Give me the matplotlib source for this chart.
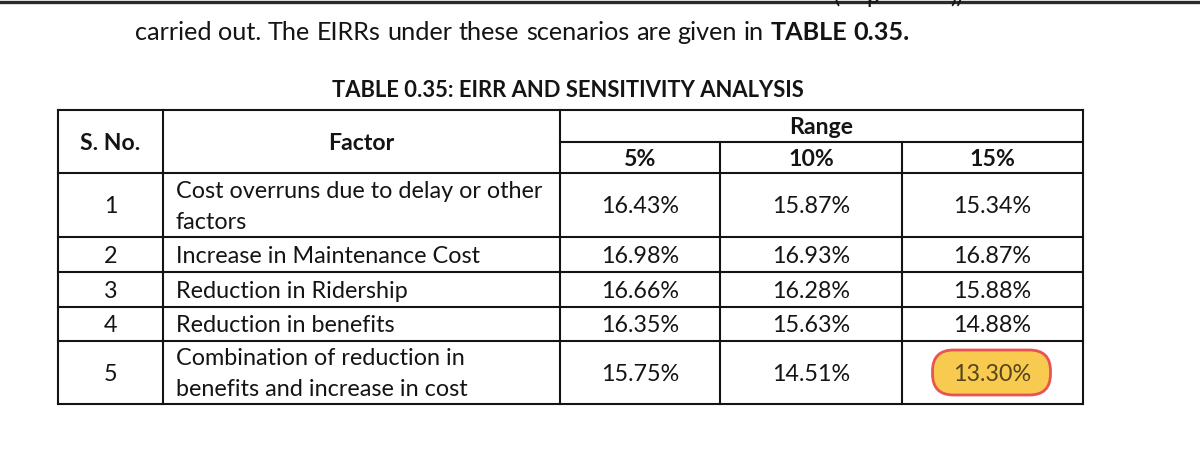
import numpy as np
import matplotlib.pyplot as plt
from matplotlib.patches import FancyBboxPatch

# table content
sno = ["1", "2", "3", "4", "5"]
factors = ["Cost overruns due to delay or other\nfactors",
           "Increase in Maintenance Cost",
           "Reduction in Ridership",
           "Reduction in benefits",
           "Combination of reduction in\nbenefits and increase in cost"]
ranges = ["5%", "10%", "15%"]
eirr_5 = [16.43, 16.98, 16.66, 16.35, 15.75]
eirr_10 = [15.87, 16.93, 16.28, 15.63, 14.51]
eirr_15 = [15.34, 16.87, 15.88, 14.88, 13.30]
highlight = (4, 2)  # row, col of the circled value

title = "TABLE 0.35: EIRR AND SENSITIVITY ANALYSIS"
para = "carried out. The EIRRs under these scenarios are given in"
para_bold = "TABLE 0.35."

FONT = "Lato"
FS = 16.8       # table body
FS_HEAD = 16.6  # bold headers
FS_PARA = 18.2
CAP = 0.7165    # Lato cap height / em
INK = "#141414"

fig = plt.figure(figsize=(12, 4.53), dpi=100)
ax = fig.add_axes([0, 0, 1, 1])
ax.set_xlim(0, 1200)
ax.set_ylim(453, 0)
ax.axis("off")
renderer = fig.canvas.get_renderer()


def base(cy, size):
    # baseline that puts cap height centred on cy (1pt = 100/72 px)
    return cy + CAP * size * 100 / 72 / 2


# page edge and the cut-off previous line
ax.plot([0, 1200], [1.5, 1.5], color="#2a2a2a", lw=2.4)
for x, s in [(834, "("), (866, "p"), (950, "))")]:
    ax.text(x, 3, s, fontsize=17, family=FONT, color=INK, va="baseline")

# justified paragraph line
words = [(w, "normal") for w in para.split()] + [(w, "bold") for w in para_bold.split()]
arts = [ax.text(0, 39.5, w, fontsize=FS_PARA, family=FONT, weight=wt, color=INK,
                va="baseline") for w, wt in words]
widths = [a.get_window_extent(renderer).width for a in arts]
x_left, x_right = 135, 910
gap = (x_right - x_left - sum(widths)) / (len(arts) - 1)
x = x_left
for a, w in zip(arts, widths):
    a.set_x(x)
    x += w + gap

ax.text(568, base(89, 15.8), title, fontsize=15.8, family=FONT, weight="bold",
        color=INK, ha="center", va="baseline")

# grid geometry
col_x = [58, 163, 560, 720, 902, 1083]
row_y = [110, 141.5, 173, 236.5, 272, 307, 341, 404]
lw = 1.5


def hline(y, x0, x1):
    ax.plot([x0, x1], [y, y], color=INK, lw=lw, solid_capstyle="projecting")


def vline(x, y0, y1):
    ax.plot([x, x], [y0, y1], color=INK, lw=lw, solid_capstyle="projecting")


hline(row_y[0], col_x[0], col_x[-1])
hline(row_y[1], col_x[2], col_x[-1])
for y in row_y[2:]:
    hline(y, col_x[0], col_x[-1])
for x in col_x[:3] + col_x[-1:]:
    vline(x, row_y[0], row_y[-1])
for x in col_x[3:5]:
    vline(x, row_y[1], row_y[-1])

# header
hy = (row_y[0] + row_y[2]) / 2
head_kw = dict(fontsize=FS_HEAD, family=FONT, weight="bold", ha="center",
               va="baseline", color=INK)
ax.text((col_x[0] + col_x[1]) / 2, base(hy, FS_HEAD), "S. No.", **head_kw)
ax.text((col_x[1] + col_x[2]) / 2, base(hy, FS_HEAD), "Factor", **head_kw)
ax.text((col_x[2] + col_x[-1]) / 2, base((row_y[0] + row_y[1]) / 2, FS_HEAD),
        "Range", **head_kw)
for j, r in enumerate(ranges):
    ax.text((col_x[2 + j] + col_x[3 + j]) / 2,
            base((row_y[1] + row_y[2]) / 2, FS_HEAD), r, **head_kw)

# body
values = np.array([eirr_5, eirr_10, eirr_15]).T
for i in range(len(sno)):
    cy = (row_y[2 + i] + row_y[3 + i]) / 2
    ax.text((col_x[0] + col_x[1]) / 2, base(cy, FS), sno[i], fontsize=FS,
            family=FONT, ha="center", va="baseline", color=INK)
    lines = factors[i].split("\n")
    offs = (np.arange(len(lines)) - (len(lines) - 1) / 2) * 31
    for ln, o in zip(lines, offs):
        ax.text(col_x[1] + 13, base(cy + o, FS), ln, fontsize=FS, family=FONT,
                ha="left", va="baseline", color=INK)
    for j in range(3):
        cx = (col_x[2 + j] + col_x[3 + j]) / 2
        color = INK
        if (i, j) == highlight:
            blob = FancyBboxPatch((cx - 52, cy - 14.5), 102, 29,
                                  boxstyle="round,pad=8,rounding_size=21",
                                  facecolor="#f8c640", edgecolor="#e8474c",
                                  lw=2.0, alpha=0.92, zorder=1)
            ax.add_patch(blob)
            color = "#54461a"
        ax.text(cx, base(cy, FS), f"{values[i, j]:.2f}%", fontsize=FS,
                family=FONT, ha="center", va="baseline", color=color, zorder=3)

fig.savefig("out.png", dpi=100, facecolor="white")
